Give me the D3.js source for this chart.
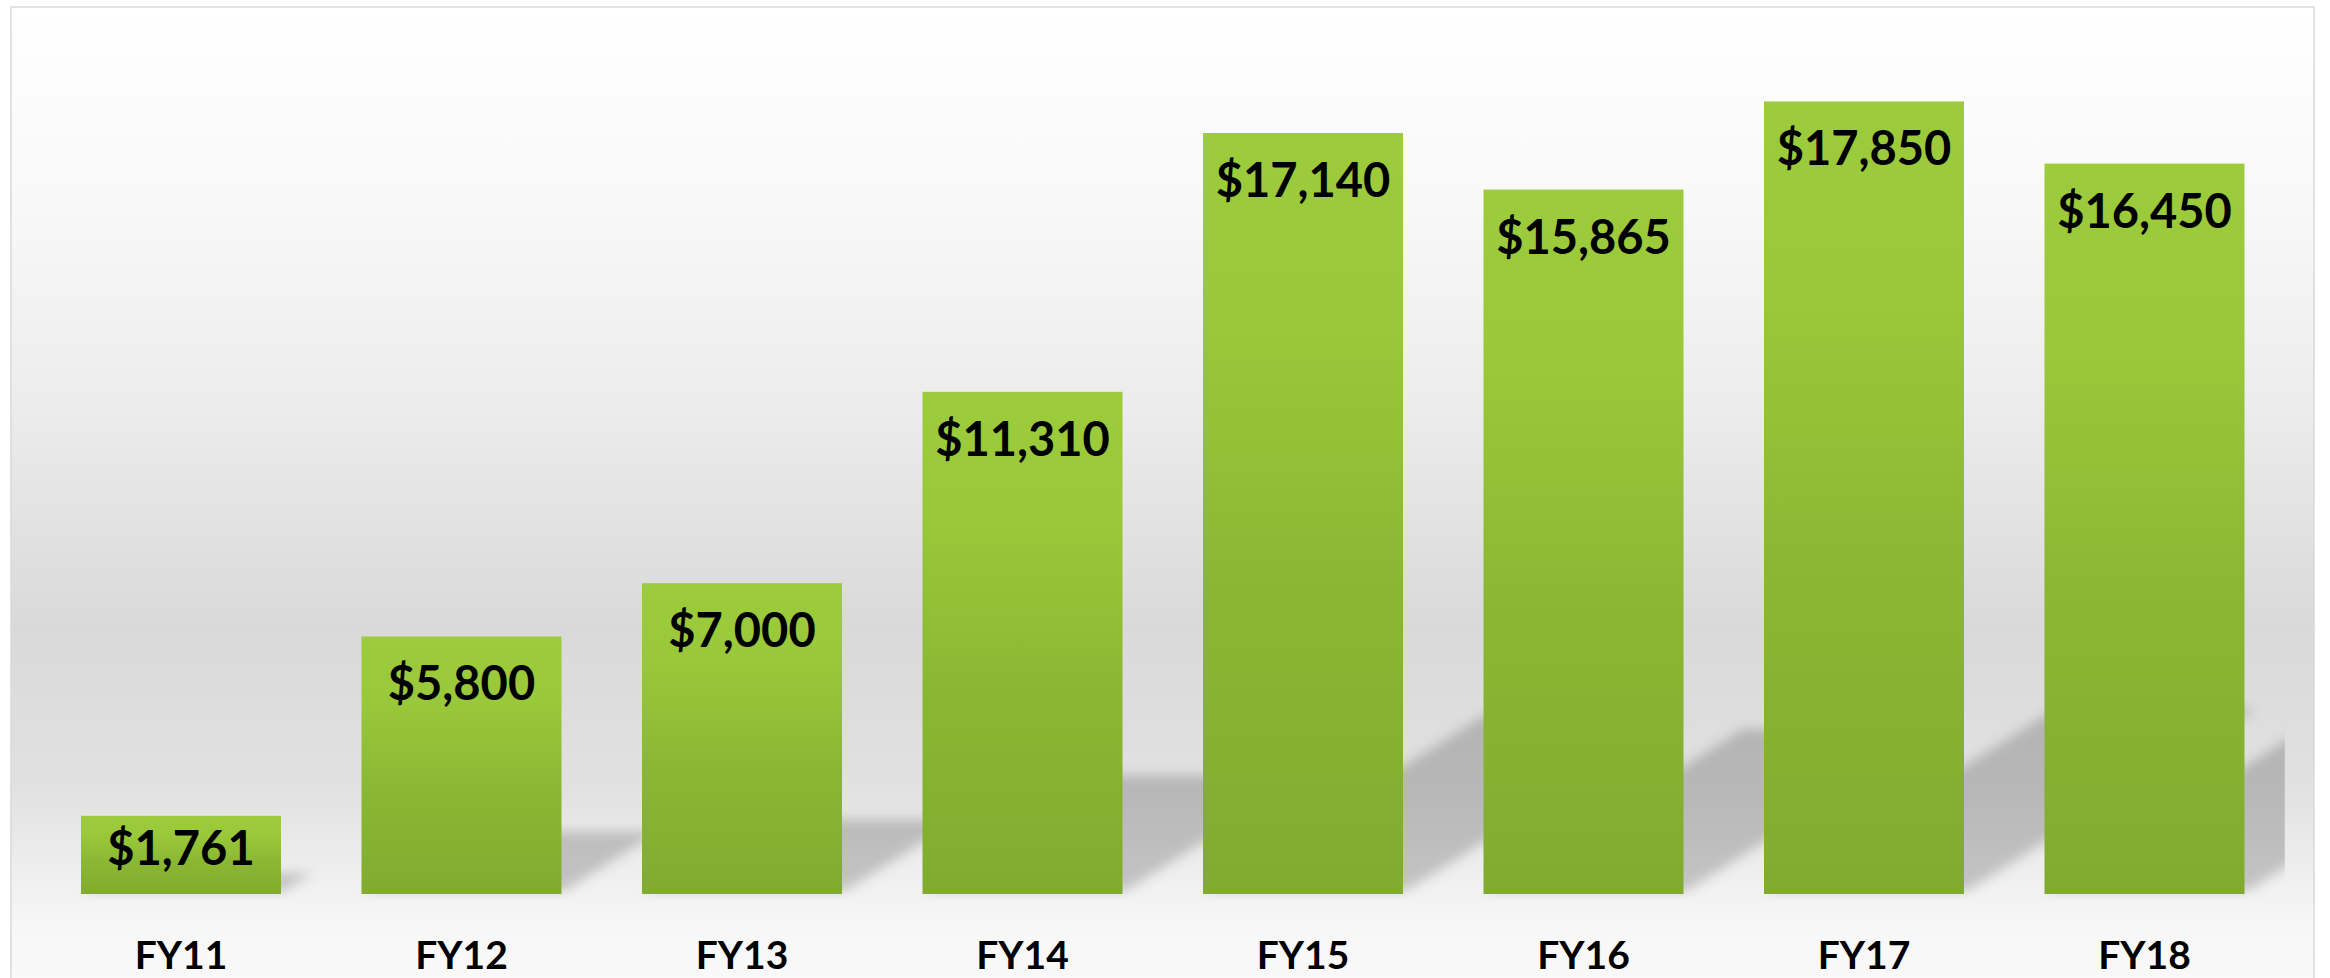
<!DOCTYPE html>
<html>
<head>
<meta charset="utf-8">
<script src="https://cdn.jsdelivr.net/npm/d3@7"></script>
<style>
  body { margin: 0; background: #ffffff; }
  svg { display: block; }
</style>
</head>
<body>
<div id="chart"></div>
<script>
// data
var years = ["FY11", "FY12", "FY13", "FY14", "FY15", "FY16", "FY17", "FY18"];
var amounts = [1761, 5800, 7000, 11310, 17140, 15865, 17850, 16450];

var width = 2330;
var height = 978;

// plot area
var plot = { left: 40.75, right: 2284.75, top: 6, bottom: 894 };

var svg = d3.select("#chart").append("svg")
            .attr("width", width)
            .attr("height", height);

var defs = svg.append("defs");

// chart background: white at the top, grey in the middle, light at the floor
var bg = defs.append("linearGradient")
             .attr("id", "bg")
             .attr("x1", 0).attr("y1", 0).attr("x2", 0).attr("y2", 1);
[[0, "#ffffff"], [0.2, "#f8f8f8"], [0.4, "#ececec"], [0.62, "#d9d9d9"],
 [0.78, "#e1e1e1"], [0.92, "#f7f7f7"], [1, "#fafafa"]].forEach(function(s){
  bg.append("stop").attr("offset", s[0]).attr("stop-color", s[1]);
});

// bar fill
var barGrad = defs.append("linearGradient")
                  .attr("id", "barGrad")
                  .attr("x1", 0).attr("y1", 0).attr("x2", 0).attr("y2", 1);
[[0, "#9ccc3b"], [0.25, "#99c83a"], [0.6, "#8ab733"], [1, "#81ab2f"]].forEach(function(s){
  barGrad.append("stop").attr("offset", s[0]).attr("stop-color", s[1]);
});

defs.append("filter")
    .attr("id", "blur")
    .attr("x", "-20%").attr("y", "-20%").attr("width", "140%").attr("height", "140%")
    .append("feGaussianBlur")
    .attr("stdDeviation", 6);

defs.append("clipPath")
    .attr("id", "plotClip")
    .append("rect")
    .attr("x", plot.left).attr("y", plot.top)
    .attr("width", plot.right - plot.left)
    .attr("height", plot.bottom - plot.top + 6);

svg.append("rect")
   .attr("x", 11).attr("y", 7)
   .attr("width", 2303).attr("height", 1000)
   .attr("fill", "url(#bg)")
   .attr("stroke", "#d9d9d9")
   .attr("stroke-width", 1.5);

var x = d3.scaleBand()
          .domain(years)
          .range([plot.left, plot.right])
          .paddingInner(80.5 / 280.5)
          .paddingOuter(80.5 / 280.5 / 2);

var y = d3.scaleLinear()
          .domain([0, 20000])
          .range([plot.bottom, plot.top]);

var fmt = d3.format("$,");

// perspective shadow, upper right: squashed to 23% and skewed 20 degrees
var shadowScale = 0.23;
var shadowSkew = Math.tan(20 * Math.PI / 180);
var shadows = svg.append("g")
                 .attr("clip-path", "url(#plotClip)")
                 .append("g")
                 .attr("filter", "url(#blur)");

shadows.selectAll("path")
  .data(amounts)
  .enter().append("path")
  .attr("fill", "#000000")
  .attr("fill-opacity", 0.19)
  .attr("d", function(d, i) {
    var x0 = x(years[i]) + 3, x1 = x0 + x.bandwidth();
    var h = y(0) - y(d);
    var sh = h * shadowScale;
    var dx = h * shadowSkew;
    var b = y(0) - 3;
    return "M" + x0 + "," + b + "L" + x1 + "," + b +
           "L" + (x1 + dx) + "," + (b - sh) +
           "L" + (x0 + dx) + "," + (b - sh) + "Z";
  });

svg.append("g")
   .attr("class", "bars")
   .selectAll("rect")
   .data(amounts)
   .enter().append("rect")
   .attr("x", function(d, i) { return x(years[i]); })
   .attr("y", function(d) { return y(d); })
   .attr("width", x.bandwidth())
   .attr("height", function(d) { return y(0) - y(d); })
   .attr("fill", "url(#barGrad)");

// value labels, inside end of each bar
svg.append("g")
   .attr("class", "labels")
   .selectAll("text")
   .data(amounts)
   .enter().append("text")
   .attr("x", function(d, i) { return x(years[i]) + x.bandwidth() / 2; })
   .attr("y", function(d) { return Math.min(y(d) + 64, y(0) - 29); })
   .attr("text-anchor", "middle")
   .style("font-family", "Lato, 'Open Sans', sans-serif")
   .style("font-weight", "bold")
   .style("font-size", "47px")
   .attr("fill", "#000000")
   .text(function(d) { return fmt(d); });

// category axis
var xAxis = d3.axisBottom(x).tickSize(0).tickPadding(0);
var axisG = svg.append("g")
               .attr("class", "x_axis")
               .attr("transform", "translate(0," + plot.bottom + ")")
               .call(xAxis);
axisG.select(".domain").remove();
axisG.selectAll("text")
     .attr("dy", null)
     .attr("y", 75)
     .style("font-family", "Lato, 'Open Sans', sans-serif")
     .style("font-weight", "bold")
     .style("font-size", "39px")
     .attr("fill", "#000000");
</script>
</body>
</html>
